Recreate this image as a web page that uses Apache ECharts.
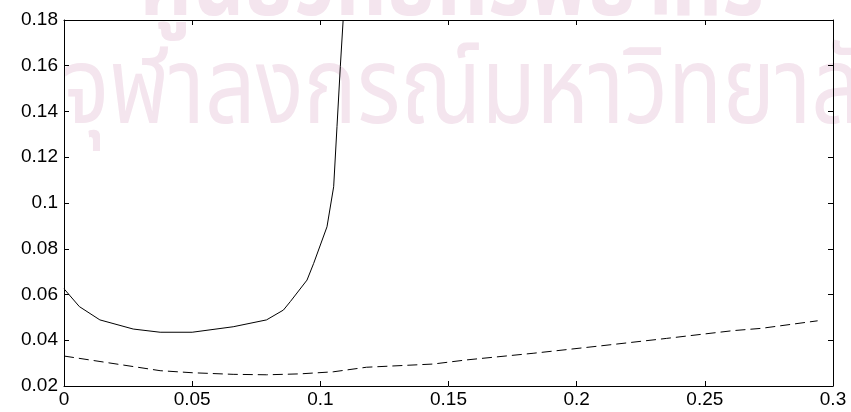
<!DOCTYPE html>
<html>
<head>
<meta charset="utf-8">
<script src="https://cdn.jsdelivr.net/npm/echarts@6/dist/echarts.min.js"></script>
<style>
html, body { margin: 0; padding: 0; background: #fff; }
#main { width: 851px; height: 412px; }
</style>
</head>
<body>
<div id="main"></div>
<script>
// solid curve (x, y)
var solidX = [0, 0.006, 0.014, 0.027, 0.0375, 0.05, 0.066, 0.079, 0.0856, 0.0883, 0.0948, 0.0974, 0.1026, 0.1052, 0.1065, 0.1078, 0.1089];
var solidY = [0.0625, 0.0547, 0.0489, 0.0449, 0.0435, 0.0435, 0.0459, 0.0489, 0.0532, 0.0569, 0.0663, 0.0736, 0.0896, 0.1071, 0.1334, 0.1596, 0.18];
// dashed curve (x, y)
var dashX = [0, 0.027, 0.0375, 0.05, 0.066, 0.079, 0.092, 0.105, 0.118, 0.144, 0.157, 0.183, 0.209, 0.235, 0.261, 0.272, 0.294];
var dashY = [0.0331, 0.0285, 0.0267, 0.0258, 0.0251, 0.0249, 0.0253, 0.0262, 0.0282, 0.0296, 0.0314, 0.0343, 0.0375, 0.0408, 0.0442, 0.0452, 0.0485];
var xTicks = [0, 0.05, 0.1, 0.15, 0.2, 0.25, 0.3];
var yTicks = [0.02, 0.04, 0.06, 0.08, 0.1, 0.12, 0.14, 0.16, 0.18];
var watermark = ['ศูนย์วิทยทรัพยากร', 'จุฬาลงกรณ์มหาวิทยาลัย'];

function pairs(xs, ys) {
    var res = [];
    for (var i = 0; i < xs.length; i++) res.push([xs[i], ys[i]]);
    return res;
}
function fmt(v) {
    return String(+v.toFixed(3));
}

var myChart = echarts.init(document.getElementById('main'));
var font = 'Liberation Sans, Arial, sans-serif';
var wmFont = '"Noto Sans Thai", "Noto Sans", sans-serif';
var baseAxis = {
    type: 'value',
    axisLine: { show: true, onZero: false, lineStyle: { color: '#000', width: 1 } },
    axisTick: { show: true, inside: true, length: 5, lineStyle: { color: '#000' } },
    splitLine: { show: false }
};
var option = {
    backgroundColor: '#fff',
    animation: false,
    graphic: [
        { type: 'text', x: 140, y: -52, scaleY: 1.2, z: -10, style: { text: watermark[0], font: 'bold 80px ' + wmFont, fill: '#f4e5ee' } },
        { type: 'text', x: 62, y: 48, scaleY: 1.2, z: -10, style: { text: watermark[1], font: '89px ' + wmFont, fill: '#f4e5ee' } }
    ],
    grid: { left: 64, right: 18, top: 20, bottom: 26 },
    xAxis: [
        Object.assign({}, baseAxis, {
            position: 'bottom', min: 0, max: 0.3, interval: 0.05,
            axisLabel: { color: '#000', fontSize: 19, fontFamily: font, margin: 4, formatter: fmt }
        }),
        Object.assign({}, baseAxis, {
            position: 'top', min: 0, max: 0.3, interval: 0.05,
            axisLabel: { show: false }
        })
    ],
    yAxis: [
        Object.assign({}, baseAxis, {
            position: 'left', min: 0.02, max: 0.18, interval: 0.02,
            axisLabel: { color: '#000', fontSize: 19, fontFamily: font, margin: 6, formatter: fmt }
        }),
        Object.assign({}, baseAxis, {
            position: 'right', min: 0.02, max: 0.18, interval: 0.02,
            axisLabel: { show: false }
        })
    ],
    series: [
        {
            name: 'solid', type: 'line', showSymbol: false, smooth: false,
            data: pairs(solidX, solidY),
            lineStyle: { color: '#000', width: 1 }
        },
        {
            name: 'dashed', type: 'line', showSymbol: false, smooth: false,
            data: pairs(dashX, dashY),
            lineStyle: { color: '#000', width: 1, type: [10, 5] }
        }
    ]
};
myChart.setOption(option);
</script>
</body>
</html>
